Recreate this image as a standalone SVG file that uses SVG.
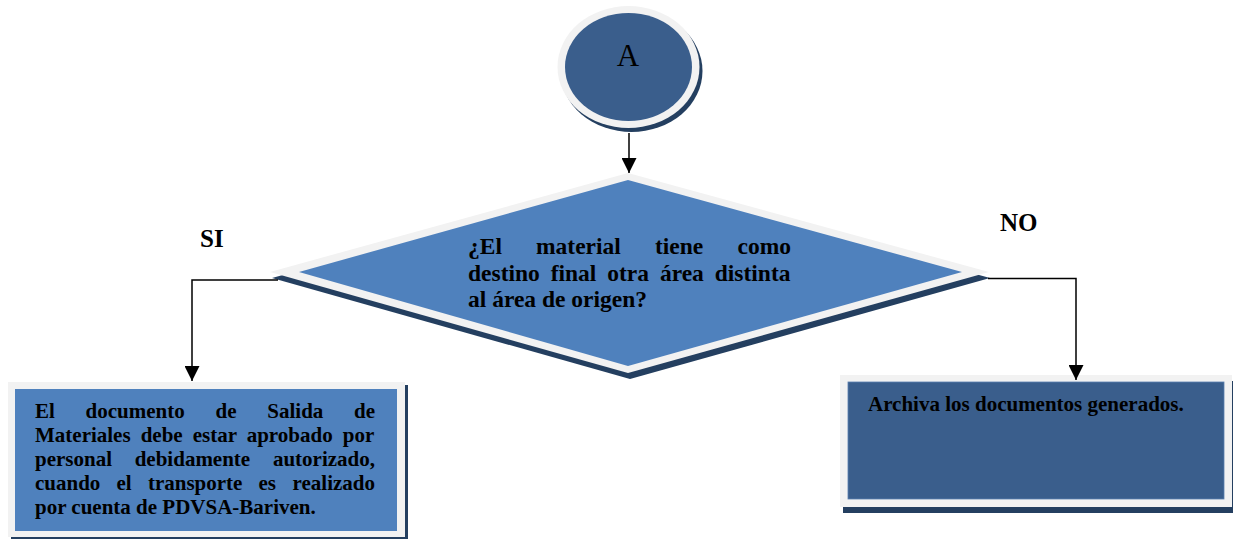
<svg xmlns="http://www.w3.org/2000/svg" width="1233" height="539" viewBox="0 0 1233 539">
  <defs>
    <marker id="arrow" viewBox="0 0 15 15" refX="15" refY="7.5" markerWidth="15" markerHeight="15" markerUnits="userSpaceOnUse" orient="auto">
      <path d="M0,0 L15,7.5 L0,15 z" fill="#000"/>
    </marker>
    <style>
      .shadow { fill: #243f60; }
      .frame { fill: #f2f2f2; }
      .blue { fill: #4f81bd; }
      .dark { fill: #3a5e8c; }
      .txt { font-family: "Liberation Serif", "Times New Roman", serif; font-weight: bold; fill: #000; }
      .conn { fill: none; stroke: #000; stroke-width: 1.5; }
    </style>
  </defs>
  <rect width="1233" height="539" fill="#ffffff"/>

  <g id="node-A">
    <ellipse class="shadow" cx="631.5" cy="71" rx="71" ry="61"/>
    <ellipse class="frame" cx="628.5" cy="67" rx="71" ry="61"/>
    <ellipse class="dark" cx="628.5" cy="67" rx="63.5" ry="54"/>
    <text x="628" y="66" text-anchor="middle" font-family="Liberation Serif, Times New Roman, serif" font-size="31" fill="#000">A</text>
  </g>

  <g id="node-decision">
    <polygon class="shadow" points="630,179 990,278 630,379 272,278"/>
    <polygon class="frame" points="628,173 989,272 628,373 270,272"/>
    <polygon class="blue" points="628,180 962,272 628,366 299,272"/>
    <g class="txt" font-size="23.5">
      <text x="468" y="254">¿El</text>
      <text x="536" y="254">material</text>
      <text x="655" y="254">tiene</text>
      <text x="791" y="254" text-anchor="end">como</text>
      <text x="468" y="280.5" word-spacing="5">destino final otra área distinta</text>
      <text x="468" y="307">al área de origen?</text>
    </g>
  </g>

  <g id="label-SI">
    <text class="txt" x="200" y="247" font-size="25">SI</text>
  </g>
  <g id="label-NO">
    <text class="txt" x="1000" y="231" font-size="25">NO</text>
  </g>

  <g id="node-si">
    <rect class="shadow" x="11" y="385" width="397" height="157"/>
    <rect class="frame" x="8" y="382" width="397" height="155"/>
    <rect class="blue" x="15" y="389" width="382" height="142"/>
    <g class="txt" font-size="21">
      <text x="35" y="418">El</text>
      <text x="85.6" y="418">documento</text>
      <text x="215.5" y="418">de</text>
      <text x="267.3" y="418">Salida</text>
      <text x="375" y="418" text-anchor="end">de</text>
      <text x="35" y="442" word-spacing="4.8">Materiales debe estar aprobado por</text>
      <text x="35" y="466">personal</text>
      <text x="134.7" y="466">debidamente</text>
      <text x="375" y="466" text-anchor="end">autorizado,</text>
      <text x="35" y="490">cuando</text>
      <text x="116.5" y="490">el</text>
      <text x="147.9" y="490">transporte</text>
      <text x="258.5" y="490">es</text>
      <text x="375" y="490" text-anchor="end">realizado</text>
      <text x="35" y="514">por cuenta de PDVSA-Bariven.</text>
    </g>
  </g>

  <g id="node-no">
    <rect class="shadow" x="843" y="381" width="392" height="132"/>
    <rect class="frame" x="840" y="375" width="392" height="132"/>
    <rect class="dark" x="848" y="382" width="376" height="117" stroke="#5a7fb0" stroke-width="0.8"/>
    <text class="txt" x="868" y="411" font-size="21">Archiva los documentos generados.</text>
  </g>

  <g id="connectors">
    <path class="conn" d="M629,133 L629,173" marker-end="url(#arrow)"/>
    <path class="conn" d="M278,280 L192,280 L192,381" marker-end="url(#arrow)"/>
    <path class="conn" d="M988,278.5 L1076,278.5 L1076,380" marker-end="url(#arrow)"/>
  </g>
</svg>
